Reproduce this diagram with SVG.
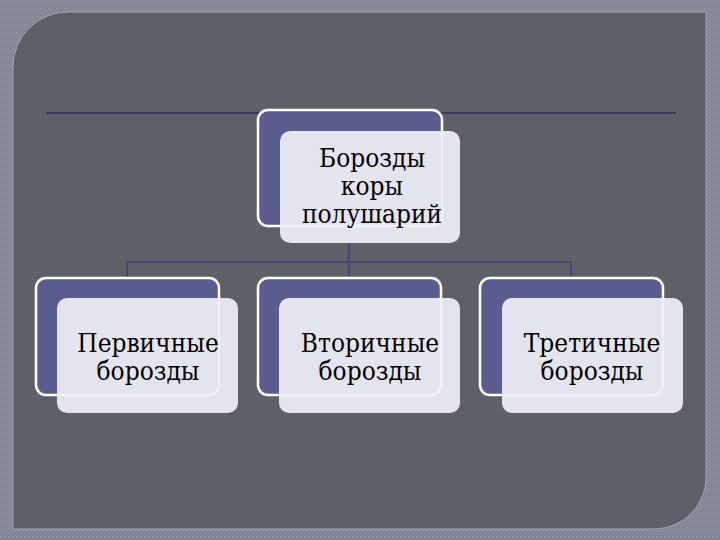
<svg xmlns="http://www.w3.org/2000/svg" width="720" height="540" viewBox="0 0 720 540">
  <defs>
    <pattern id="tex" width="4" height="4" patternUnits="userSpaceOnUse">
      <rect width="4" height="4" fill="#868896"/>
      <rect x="0" y="0" width="1" height="1" fill="#9a9cab"/>
      <rect x="2" y="2" width="1" height="1" fill="#9a9cab"/>
      <rect x="1" y="3" width="1" height="1" fill="#787a88"/>
      <rect x="3" y="1" width="1" height="1" fill="#787a88"/>
    </pattern>
    <pattern id="ptex" width="4" height="4" patternUnits="userSpaceOnUse">
      <rect width="4" height="4" fill="#5e6068"/>
      <rect x="0" y="0" width="1" height="1" fill="#64666e"/>
      <rect x="2" y="2" width="1" height="1" fill="#595b63"/>
    </pattern>
  </defs>
  <style>
    .back { fill: #5b5d90; stroke: #ffffff; stroke-width: 2.5; }
    .front { fill: #efeff5; fill-opacity: 0.93; }
    .lbl { font-family: "DejaVu Serif Condensed", "DejaVu Serif", serif; font-stretch: condensed; font-size: 26px; fill: #000000; text-anchor: middle; }
    .conn { stroke: #44467c; stroke-width: 2; fill: none; }
  </style>
  <rect x="0" y="0" width="720" height="540" fill="url(#tex)"/>
  <path d="M13,67 A55,55 0 0 1 68,12 L706,12 L706,477 A52,52 0 0 1 654,529 L13,529 Z" fill="url(#ptex)" stroke="#a0a2b0" stroke-width="1"/>
  <line x1="46" y1="113" x2="676" y2="113" stroke="#2a2c58" stroke-width="1.5"/>

  <g id="connectors">
    <path class="conn" d="M349,243 V262"/>
    <path class="conn" d="M127,262 H571"/>
    <path class="conn" d="M127,262 V278"/>
    <path class="conn" d="M349,262 V278"/>
    <path class="conn" d="M571,262 V278"/>
  </g>

  <g id="node-top">
    <rect class="back" x="258" y="110" width="184" height="116" rx="10"/>
    <rect class="front" x="280" y="131" width="180" height="112" rx="10"/>
    <text class="lbl" x="372" y="167">Борозды</text>
    <text class="lbl" x="372" y="195">коры</text>
    <text class="lbl" x="372" y="223">полушарий</text>
  </g>

  <g id="node-primary">
    <rect class="back" x="36" y="278" width="183" height="117" rx="10"/>
    <rect class="front" x="57" y="298" width="181" height="115" rx="10"/>
    <text class="lbl" x="148" y="352">Первичные</text>
    <text class="lbl" x="148" y="380">борозды</text>
  </g>

  <g id="node-secondary">
    <rect class="back" x="258" y="278" width="183" height="117" rx="10"/>
    <rect class="front" x="279" y="298" width="181" height="115" rx="10"/>
    <text class="lbl" x="370" y="352">Вторичные</text>
    <text class="lbl" x="370" y="380">борозды</text>
  </g>

  <g id="node-tertiary">
    <rect class="back" x="480" y="278" width="183" height="117" rx="10"/>
    <rect class="front" x="502" y="298" width="181" height="115" rx="10"/>
    <text class="lbl" x="592" y="352">Третичные</text>
    <text class="lbl" x="592" y="380">борозды</text>
  </g>
</svg>
